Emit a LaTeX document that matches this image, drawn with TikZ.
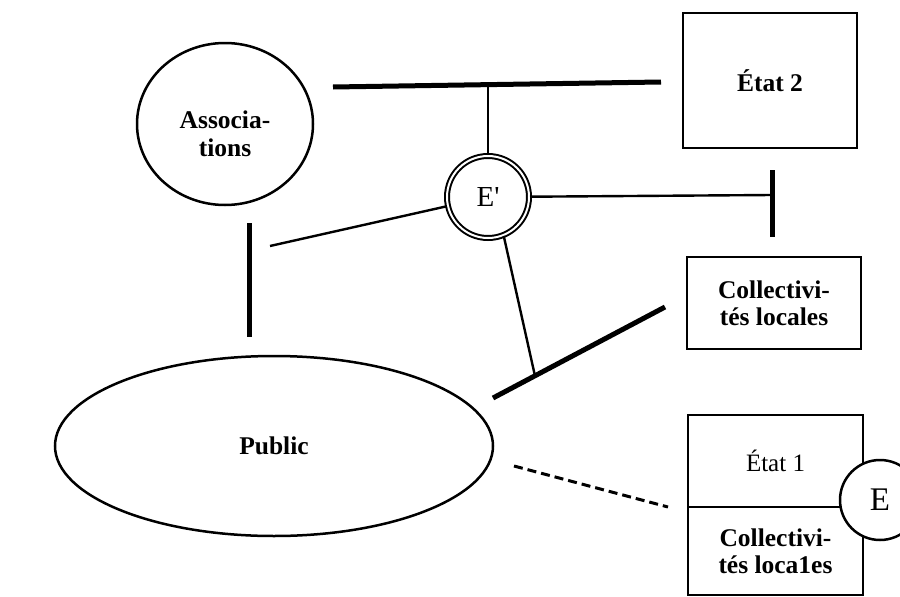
\documentclass[tikz,border=0pt]{standalone}
\usepackage{fontspec}
\setmainfont{Liberation Serif}
\usetikzlibrary{shapes.geometric}

\tikzset{
  oval/.style={draw, ellipse, line width=2.5pt, inner sep=0pt, align=center,
    font=\fontsize{25.5}{28}\selectfont\bfseries},
  box/.style={draw, rectangle, line width=2.8pt, inner sep=0pt, align=center,
    font=\fontsize{25.5}{27}\selectfont\bfseries},
  ring/.style={draw, circle, inner sep=0pt, font=\fontsize{29}{30}\selectfont},
  thinline/.style={line width=2.4pt},
  bar/.style={line width=5pt},
}

\begin{document}
\begin{tikzpicture}[x=1pt,y=-1pt]
\useasboundingbox (0,0) rectangle (900,597);

\node[oval, minimum width=176pt, minimum height=162pt, text height=66pt] (assoc)%
 at (225,124) {Associa-\\tions};
\node[oval, minimum width=438pt, minimum height=180pt] (public) at (274,446)%
{Public};

\node[box, minimum width=174pt, minimum height=135pt] (etat2) at (770,80.5)%
{État 2};
\node[box, minimum width=174pt, minimum height=92pt] (coll2) at (774,303)%
{Collectivi-\\tés locales};
\node[box, minimum width=175pt, minimum height=92pt,
  font=\fontsize{25}{27}\selectfont] (etat1) at (775.5,461)%
{État 1};
\node[box, minimum width=175pt, minimum height=88pt] (coll1) at (775.5,551)%
{Collectivi-\\tés loca1es};

\node[ring, minimum size=82pt, line width=2pt, double=white,
  double distance=2pt] (Ep) at (488,197) {E\textquotesingle};
\node[ring, minimum size=80pt, line width=2.5pt, fill=white,
  font=\fontsize{33}{34}\selectfont] (E) at (880,500) {E};

% bars
\coordinate (topL) at (333,87);
\coordinate (topR) at (661,82);
\coordinate (topT) at (488,85);
\coordinate (rbarT) at (772,170);
\coordinate (rbarB) at (772,237);
\coordinate (rT) at (772,195);
\coordinate (lbarT) at (249,223);
\coordinate (lbarB) at (249,337);
\coordinate (lend) at (270,246);
\coordinate (bbarL) at (493,398);
\coordinate (bbarR) at (665,307);
\coordinate (bT) at (535,376);
\coordinate (dashA) at (514,466);
\coordinate (dashB) at (668,507);

\draw[bar] (topL) -- (topR);
\draw[bar] (rbarT) -- (rbarB);
\draw[bar] (lbarT) -- (lbarB);
\draw[bar] (bbarL) -- (bbarR);

\draw[thinline] (Ep) -- (topT);
\draw[thinline] (Ep) -- (rT);
\draw[thinline] (Ep) -- (lend);
\draw[thinline] (Ep.-68) -- (bT);

\draw[line width=3pt, dash pattern=on 9pt off 5pt] (dashA) -- (dashB);

\end{tikzpicture}
\end{document}
